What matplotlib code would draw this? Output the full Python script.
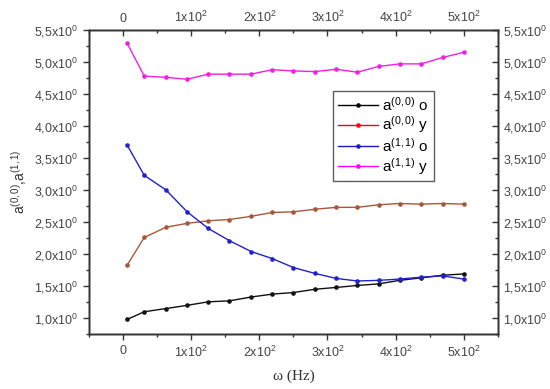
import matplotlib
matplotlib.use("Agg")
import matplotlib.pyplot as plt
from matplotlib.lines import Line2D
from matplotlib.ticker import MultipleLocator, FuncFormatter

plt.rcParams['font.family'] = ['Liberation Sans', 'DejaVu Sans']
plt.rcParams['mathtext.fontset'] = 'custom'
plt.rcParams['mathtext.rm'] = 'Liberation Sans'
plt.rcParams['mathtext.it'] = 'Liberation Sans:italic'
plt.rcParams['mathtext.bf'] = 'Liberation Sans:bold'

freq = [6, 31, 63, 94, 125, 156, 188, 219, 250, 281, 313, 344, 375, 406, 438, 469, 500]
a00_o = [0.98, 1.10, 1.15, 1.20, 1.255, 1.27, 1.33, 1.375, 1.40, 1.45, 1.48, 1.51, 1.535, 1.59, 1.63, 1.67, 1.69]
a00_y = [1.83, 2.26, 2.42, 2.48, 2.52, 2.54, 2.59, 2.65, 2.66, 2.70, 2.73, 2.73, 2.77, 2.79, 2.78, 2.79, 2.78]
a11_o = [3.70, 3.23, 3.00, 2.66, 2.40, 2.21, 2.04, 1.93, 1.79, 1.70, 1.62, 1.58, 1.59, 1.61, 1.64, 1.66, 1.61]
a11_y = [5.29, 4.78, 4.76, 4.73, 4.81, 4.81, 4.81, 4.88, 4.86, 4.85, 4.886, 4.84, 4.93, 4.97, 4.97, 5.07, 5.15]

series = [
    (a00_o, '#111111', '#000000', r'a$^{(0,0)}$ o'),
    (a00_y, '#a8583a', '#ff0000', r'a$^{(0,0)}$ y'),
    (a11_o, '#2222cc', '#1a1acc', r'a$^{(1,1)}$ o'),
    (a11_y, '#f020e0', '#ff00ff', r'a$^{(1,1)}$ y'),
]

fig = plt.figure(figsize=(5.5, 3.89), dpi=100)
ax = fig.add_axes([0.162, 0.141, 0.743, 0.782])

for vals, col, lcol, lab in series:
    ax.plot(freq, vals, color=col, lw=1.0, marker='o', ms=2.3, mec=col, mfc=col)

xlim = (-50, 550)
ylim = (0.75, 5.5)
ax.set_xlim(*xlim)
ax.set_ylim(*ylim)

def xfmt(v, pos):
    if abs(v) < 1e-9:
        return '0'
    return r'%dx10$^{2}$' % round(v / 100)

def yfmt(v, pos):
    return (r'%.1f' % v).replace('.', ',') + r'x10$^{0}$'

ax.xaxis.set_major_locator(MultipleLocator(100))
ax.xaxis.set_minor_locator(MultipleLocator(50))
ax.yaxis.set_major_locator(MultipleLocator(0.5))
ax.yaxis.set_minor_locator(MultipleLocator(0.25))
ax.xaxis.set_major_formatter(FuncFormatter(xfmt))
ax.yaxis.set_major_formatter(FuncFormatter(yfmt))
ax.tick_params(which='major', direction='out', length=4, width=1, labelsize=9, colors='#333333', labelcolor='#444444')
ax.tick_params(which='minor', direction='out', length=2.5, width=1, colors='#333333')

axt = ax.twiny()
axt.set_xlim(*xlim)
axt.xaxis.set_major_locator(MultipleLocator(100))
axt.xaxis.set_minor_locator(MultipleLocator(50))
axt.xaxis.set_major_formatter(FuncFormatter(xfmt))
axt.tick_params(which='major', direction='in', length=4, width=1, labelsize=9, colors='#333333', labelcolor='#444444')
axt.tick_params(which='minor', direction='in', length=2.5, width=1, colors='#333333')

axr = ax.twinx()
axr.set_ylim(*ylim)
axr.yaxis.set_major_locator(MultipleLocator(0.5))
axr.yaxis.set_minor_locator(MultipleLocator(0.25))
axr.yaxis.set_major_formatter(FuncFormatter(yfmt))
axr.tick_params(which='major', direction='in', length=4, width=1, labelsize=9, colors='#333333', labelcolor='#444444')
axr.tick_params(which='minor', direction='in', length=2.5, width=1, colors='#333333')

for a in (ax, axt, axr):
    for s in a.spines.values():
        s.set_color('#333333')
        s.set_linewidth(1.0)

ax.set_xlabel('ω (Hz)', fontsize=11, family=['Liberation Serif', 'DejaVu Serif'], labelpad=7, color='#333333')
ax.set_ylabel(r'a$^{(0,0)}$,a$^{(1,1)}$', fontsize=10, labelpad=4, color='#333333')

handles = [Line2D([], [], color=lcol, lw=1.0, marker='o', ms=2.3) for _, _, lcol, _ in series]
labels = [lab for *_, lab in series]
leg = axt.legend(handles, labels, loc='upper left', bbox_to_anchor=(0.598, 0.8), fontsize=11,
                 frameon=True, fancybox=False, edgecolor='#333333', handlelength=2.6,
                 handletextpad=0.3, borderpad=0.3, labelspacing=0.08, borderaxespad=0)
leg.get_frame().set_linewidth(1.0)

fig.savefig('out.png', dpi=100)
